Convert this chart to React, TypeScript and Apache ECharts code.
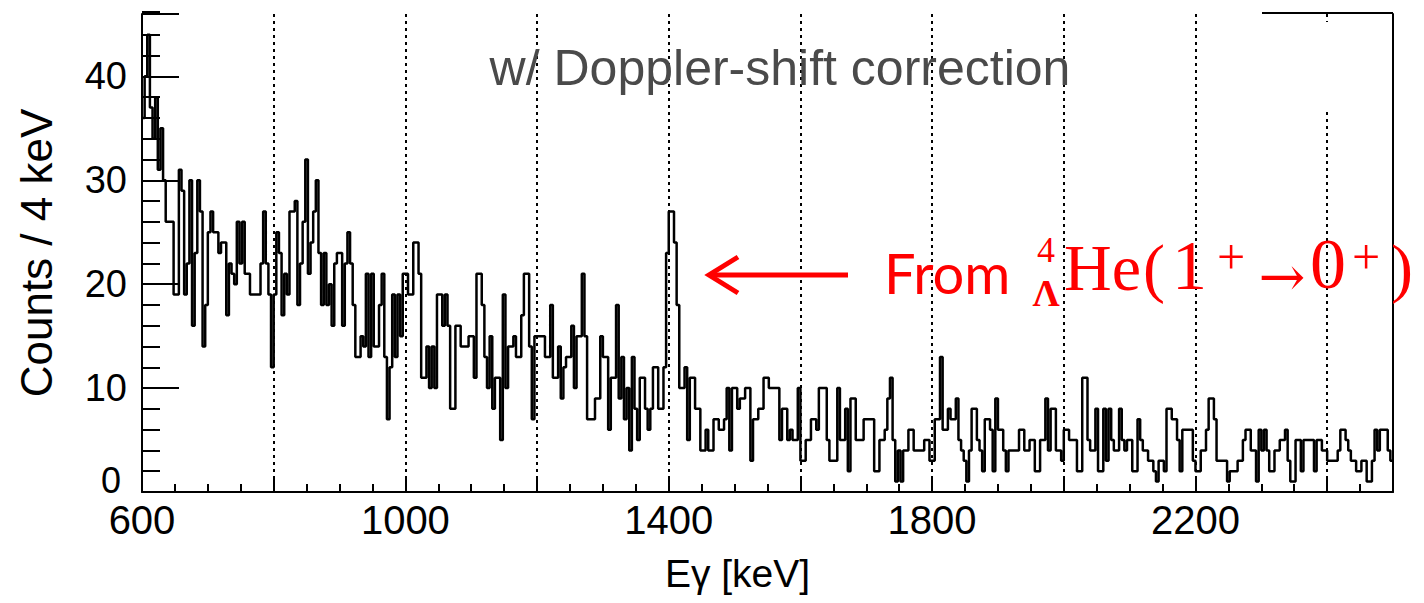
import React, { useEffect, useRef } from "react";
import * as echarts from "echarts";

// Histogram: 4 keV bins starting at 600 keV
const binStart = 600;
const binWidth = 4;

const counts600to1000 = [
  36, 40, 44, 37, 34, 38, 31, 35, 30, 26,
  26, 26, 19, 19, 31, 29, 19, 22, 30, 16,
  23, 30, 27, 14, 18, 25, 27, 25, 25, 23,
  24, 24, 17, 22, 21, 20, 26, 22, 26, 21,
  21, 19, 19, 19, 19, 22, 27, 22, 19, 12,
  19, 25, 23, 17, 21, 19, 27, 27, 28, 18,
  22, 26, 32, 21, 24, 27, 30, 23, 18, 23,
  18, 20, 16, 22, 23, 23, 16, 22, 25, 22,
  18, 13, 13, 15, 14, 21, 13, 21, 14, 14,
  18, 21, 13, 7, 12, 19, 13, 19, 15, 21,
];
const counts1000to1400 = [
  21, 19, 19, 24, 24, 21, 11, 11, 14, 10,
  14, 10, 19, 19, 16, 19, 16, 8, 8, 16,
  16, 14, 14, 14, 15, 15, 11, 21, 21, 18,
  13, 10, 15, 8, 11, 11, 5, 19, 10, 14,
  14, 15, 13, 13, 17, 21, 21, 14, 7, 15,
  15, 15, 15, 13, 13, 18, 11, 11, 14, 9,
  12, 13, 13, 16, 10, 15, 15, 21, 15, 7,
  7, 7, 9, 9, 15, 13, 13, 6, 11, 11,
  18, 9, 13, 7, 10, 4, 13, 8, 5, 11,
  11, 8, 6, 8, 12, 12, 8, 8, 12, 23,
];
const counts1400to1800 = [
  27, 27, 24, 18, 10, 10, 12, 5, 11, 11,
  8, 8, 4, 4, 6, 4, 4, 7, 7, 6,
  6, 7, 10, 4, 10, 10, 8, 9, 9, 10,
  10, 3, 7, 7, 8, 8, 11, 11, 10, 10,
  10, 10, 5, 8, 8, 5, 6, 5, 5, 10,
  3, 3, 5, 5, 7, 7, 6, 10, 10, 10,
  5, 3, 3, 3, 10, 5, 5, 8, 2, 9,
  9, 5, 5, 5, 7, 7, 7, 7, 2, 2,
  5, 5, 6, 9, 11, 5, 1, 4, 1, 4,
  4, 6, 6, 4, 4, 4, 4, 5, 5, 3,
];
const counts1800to2200 = [
  3, 7, 7, 13, 6, 6, 8, 7, 7, 9,
  5, 4, 3, 1, 4, 8, 8, 5, 4, 2,
  7, 7, 6, 2, 9, 6, 6, 4, 2, 4,
  4, 4, 4, 6, 6, 4, 4, 5, 5, 2,
  2, 5, 5, 9, 4, 8, 8, 4, 4, 3,
  6, 6, 5, 5, 5, 2, 2, 11, 11, 5,
  4, 4, 8, 2, 2, 8, 3, 8, 5, 4,
  4, 8, 5, 4, 5, 5, 2, 2, 7, 5,
  4, 4, 3, 3, 2, 1, 3, 3, 2, 8,
  8, 7, 7, 5, 2, 6, 6, 6, 6, 3,
];
const counts2200to2500 = [
  2, 2, 4, 4, 6, 9, 9, 7, 3, 3,
  3, 3, 1, 2, 2, 2, 3, 3, 5, 6,
  6, 4, 4, 1, 6, 4, 6, 4, 2, 2,
  4, 4, 5, 5, 6, 3, 1, 1, 5, 5,
  2, 5, 5, 5, 5, 2, 5, 5, 4, 4,
  3, 3, 3, 3, 4, 6, 6, 5, 4, 3,
  3, 2, 2, 3, 3, 1, 1, 3, 6, 4,
  6, 6, 6, 4, 3,
];

const xLabelValues = [600, 1000, 1400, 1800, 2200];
const yLabelValues = [10, 20, 30, 40];
const yZeroLabel = "0";

const titleText = "w/ Doppler-shift correction";
const xName = "Eγ [keV]";
const yName = "Counts / 4 keV";

export default function App() {
  const ref = useRef<HTMLDivElement>(null);
  useEffect(() => {
    const chart = echarts.init(ref.current!, null, { renderer: "svg" });
    const counts = [
      ...counts600to1000,
      ...counts1000to1400,
      ...counts1400to1800,
      ...counts1800to2200,
      ...counts2200to2500,
    ];
    const data: number[][] = counts.map((c, i) => [binStart + i * binWidth, c]);
    data.push([binStart + counts.length * binWidth, counts[counts.length - 1]]);

    const black = "#000";
    const red = "#ff0000";
    const sans = "'Liberation Sans', Arial, sans-serif";
    const serif = "'Liberation Serif', 'Times New Roman', serif";

    chart.setOption({
      animation: false,
      backgroundColor: "#fff",
      grid: { left: 142, right: 31, top: 14, bottom: 111, containLabel: false },
      xAxis: [
        {
          type: "value",
          min: 600,
          max: 2500,
          interval: 50,
          axisLine: { show: true, lineStyle: { color: black, width: 2 } },
          axisTick: { show: true, inside: true, length: 8, lineStyle: { color: black, width: 2 } },
          splitLine: { show: false },
          axisLabel: {
            formatter: (v: number) => (xLabelValues.includes(v) ? String(v) : ""),
            fontSize: 40,
            lineHeight: 30,
            color: black,
            fontFamily: sans,
            margin: 13,
            showMaxLabel: false,
          },
          name: xName,
          nameLocation: "middle",
          nameGap: 62,
          nameTextStyle: { fontSize: 39, color: black, fontFamily: sans, padding: [0, 60, 0, 0] },
        },
        {
          type: "value",
          min: 600,
          max: 2500,
          interval: 200,
          position: "bottom",
          axisLine: { show: false },
          axisTick: { show: true, inside: true, length: 16, lineStyle: { color: black, width: 2 } },
          axisLabel: { show: false },
          splitLine: { show: true, lineStyle: { color: black, width: 2, type: [3, 4] } },
        },
      ],
      yAxis: [
        {
          type: "value",
          min: 0,
          max: 46,
          interval: 2,
          axisLine: { show: true, lineStyle: { color: black, width: 2 } },
          axisTick: { show: true, inside: true, length: 18, lineStyle: { color: black, width: 2 } },
          splitLine: { show: false },
          axisLabel: {
            formatter: (v: number) => (yLabelValues.includes(v) ? String(v) : ""),
            fontSize: 38,
            lineHeight: 28,
            color: black,
            fontFamily: sans,
            margin: 15,
          },
          name: yName,
          nameLocation: "middle",
          nameGap: 84,
          nameTextStyle: { fontSize: 44, color: black, fontFamily: sans },
        },
        {
          type: "value",
          min: 0,
          max: 46,
          interval: 10,
          position: "left",
          axisLine: { show: false },
          axisTick: { show: true, inside: true, length: 37, lineStyle: { color: black, width: 2 } },
          axisLabel: { show: false },
          splitLine: { show: false },
        },
        {
          type: "value",
          min: 0,
          max: 46,
          position: "right",
          axisLine: { show: true, lineStyle: { color: black, width: 2 } },
          axisTick: { show: false },
          axisLabel: { show: false },
          splitLine: { show: false },
        },
      ],
      series: [
        {
          type: "line",
          step: "end",
          data,
          xAxisIndex: 0,
          yAxisIndex: 0,
          symbol: "none",
          clip: true,
          lineStyle: { color: black, width: 2.5 },
          z: 5,
        },
      ],
      graphic: [
        { type: "rect", z: 50, shape: { x: 1321, y: 22, width: 12, height: 88 }, style: { fill: "#fff" } },
        { type: "line", z: 60, shape: { x1: 1262, y1: 13, x2: 1393, y2: 13 }, style: { stroke: black, lineWidth: 2 } },
        { type: "line", z: 60, shape: { x1: 142, y1: 13, x2: 160, y2: 13 }, style: { stroke: black, lineWidth: 4 } },
        {
          type: "text",
          z: 60,
          style: { text: yZeroLabel, x: 121, y: 480, align: "right", verticalAlign: "middle", lineHeight: 24, fontSize: 36, fontFamily: sans, fill: black },
        },
        {
          type: "text",
          z: 60,
          style: { text: titleText, x: 780, y: 68, align: "center", verticalAlign: "middle", fontSize: 50, fontFamily: sans, fill: "#4a4a4a" },
        },
        { type: "line", z: 60, shape: { x1: 848, y1: 275, x2: 711, y2: 275 }, style: { stroke: red, lineWidth: 5 } },
        { type: "polyline", z: 60, shape: { points: [[738, 257], [709, 275], [738, 293]] }, style: { stroke: red, lineWidth: 5, fill: "none" } },
        { type: "text", z: 60, style: { text: "From", x: 884, y: 300, verticalAlign: "bottom", fontSize: 56, fontFamily: "Lato, 'Open Sans', sans-serif", fill: red } },
        { type: "text", z: 60, style: { text: "4", x: 1046, y: 250, align: "center", verticalAlign: "middle", lineHeight: 30, fontSize: 36, fontFamily: serif, fill: red } },
        { type: "text", z: 60, style: { text: "Λ", x: 1046, y: 293, align: "center", verticalAlign: "middle", lineHeight: 30, fontSize: 38, fontWeight: "bold", fontFamily: serif, fill: red } },
        { type: "text", z: 60, style: { text: "He", x: 1064, y: 300, verticalAlign: "bottom", fontSize: 66, fontFamily: serif, fill: red } },
        { type: "text", z: 60, style: { text: "(", x: 1143, y: 300, verticalAlign: "bottom", fontSize: 66, fontFamily: serif, fill: red } },
        { type: "text", z: 60, style: { text: "1", x: 1172, y: 300, verticalAlign: "bottom", fontSize: 70, fontFamily: serif, fill: red } },
        { type: "text", z: 60, style: { text: "+", x: 1231, y: 257, align: "center", verticalAlign: "middle", fontSize: 50, fontFamily: serif, fill: red } },
        { type: "text", z: 60, style: { text: "→", x: 1282, y: 276, align: "center", verticalAlign: "middle", fontSize: 56, fontFamily: "'DejaVu Serif', serif", fill: red } },
        { type: "text", z: 60, style: { text: "0", x: 1310, y: 300, verticalAlign: "bottom", fontSize: 72, fontFamily: serif, fill: red } },
        { type: "text", z: 60, style: { text: "+", x: 1366, y: 257, align: "center", verticalAlign: "middle", fontSize: 50, fontFamily: serif, fill: red } },
        { type: "text", z: 60, style: { text: ")", x: 1391, y: 300, verticalAlign: "bottom", fontSize: 66, fontFamily: serif, fill: red } },
      ],
    });
    return () => chart.dispose();
  }, []);
  return (
    <div
      ref={ref}
      style={{ position: "absolute", left: 0, top: 0, width: 1424, height: 603 }}
    />
  );
}
